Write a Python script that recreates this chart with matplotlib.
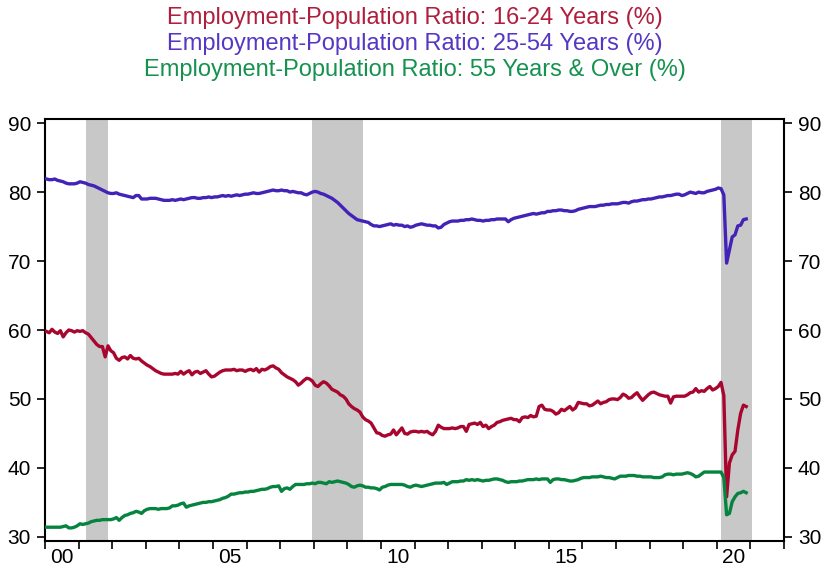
import numpy as np
import matplotlib
matplotlib.use("Agg")
import matplotlib.pyplot as plt

# monthly readings, Jan 2000 .. Nov 2020
age_16_24 = [
    59.8, 59.6, 60.1, 59.7, 59.5, 59.9, 59.0, 59.6, 60.0, 59.9, 59.7, 59.9,
    59.8, 59.9, 59.6, 59.4, 58.9, 58.4, 57.9, 57.6, 57.6, 56.1, 57.7, 57.0,
    56.7, 55.9, 55.6, 56.0, 56.1, 55.8, 56.3, 55.9, 55.8, 55.9, 55.5, 55.2,
    54.9, 54.7, 54.4, 54.1, 53.9, 53.7, 53.6, 53.6, 53.6, 53.6, 53.7, 53.6,
    54.0, 53.6, 53.9, 54.1, 53.5, 53.9, 54.0, 53.7, 53.9, 54.1, 53.6, 53.2,
    53.3, 53.6, 53.9, 54.1, 54.2, 54.2, 54.2, 54.3, 54.1, 54.2, 54.2, 54.0,
    54.2, 54.3, 54.1, 54.4, 53.9, 54.3, 54.2, 54.4, 54.7, 54.8, 54.5, 54.3,
    53.8, 53.5, 53.2, 53.0, 52.8, 52.5, 52.0, 52.3, 52.7, 53.0, 52.9, 52.6,
    52.0, 51.8, 52.2, 52.5, 52.3, 51.9, 51.4, 51.2, 51.0, 50.6, 50.4, 50.0,
    49.3, 48.9, 48.6, 48.4, 48.1, 47.4, 47.0, 46.8, 46.5, 45.8, 45.1, 45.0,
    44.7, 44.6, 44.8, 44.9, 45.5, 44.8, 45.3, 45.8, 45.0, 44.9, 45.2, 45.3,
    45.3, 45.2, 45.3, 45.2, 45.3, 45.0, 44.8, 45.3, 46.2, 45.9, 45.7, 45.7,
    45.7, 45.8, 45.7, 45.8, 46.0, 46.0, 45.3, 46.3, 46.4, 46.5, 46.3, 46.6,
    46.0, 46.2, 45.7, 46.0, 46.2, 46.6, 46.7, 46.9, 47.0, 47.1, 47.2, 47.0,
    47.0, 46.7, 47.3, 47.4, 47.3, 47.6, 47.4, 47.5, 48.9, 49.1, 48.5, 48.4,
    48.4, 48.2, 47.8, 48.0, 48.5, 48.3, 48.6, 48.9, 48.4, 48.7, 49.5, 49.4,
    49.3, 49.3, 49.0, 49.1, 49.4, 49.7, 49.3, 49.5, 49.6, 49.9, 50.0, 50.0,
    49.9, 50.2, 50.7, 50.5, 50.1, 50.2, 50.6, 50.9, 50.3, 49.8, 50.2, 50.6,
    50.9, 51.0, 50.8, 50.6, 50.5, 50.4, 50.4, 49.4, 50.3, 50.4, 50.4, 50.4,
    50.4, 50.6, 50.9, 51.0, 51.5, 51.0, 51.2, 51.1, 51.5, 51.8, 51.3, 51.5,
    51.8, 52.4, 50.5, 35.8, 40.7, 41.9, 42.4, 45.5, 47.9, 49.1, 48.9,
]

age_25_54 = [
    81.9, 81.8, 81.8, 81.9, 81.7, 81.6, 81.5, 81.3, 81.2, 81.2, 81.2, 81.3,
    81.5, 81.4, 81.3, 81.1, 81.0, 80.9, 80.7, 80.5, 80.3, 80.1, 79.9, 79.8,
    79.8, 79.9, 79.7, 79.6, 79.5, 79.4, 79.3, 79.2, 79.5, 79.5, 79.0, 79.0,
    79.0, 79.1, 79.1, 79.1, 79.0, 78.9, 78.8, 78.8, 78.8, 78.9, 78.8, 78.9,
    79.0, 78.9, 79.0, 79.1, 79.2, 79.2, 79.1, 79.1, 79.2, 79.2, 79.3, 79.2,
    79.3, 79.3, 79.4, 79.5, 79.4, 79.5, 79.4, 79.5, 79.6, 79.5, 79.6, 79.7,
    79.7, 79.8, 79.9, 79.8, 79.8, 79.9, 80.0, 80.1, 80.2, 80.3, 80.2, 80.2,
    80.3, 80.2, 80.2, 80.0, 80.1, 80.0, 79.9, 79.9, 79.7, 79.6, 79.8, 80.0,
    80.1, 80.0, 79.8, 79.7, 79.5, 79.3, 79.1, 78.8, 78.5, 78.1, 77.7, 77.3,
    76.9, 76.6, 76.3, 76.0, 75.9, 75.8, 75.7, 75.6, 75.3, 75.1, 75.1, 75.0,
    75.1, 75.2, 75.3, 75.4, 75.2, 75.3, 75.2, 75.2, 75.0, 75.1, 74.9, 75.0,
    75.2, 75.3, 75.4, 75.3, 75.2, 75.2, 75.1, 75.1, 74.8, 74.9, 75.3, 75.5,
    75.7, 75.8, 75.8, 75.8, 75.9, 75.9, 76.0, 76.0, 76.1, 76.0, 75.9, 75.9,
    75.8, 75.9, 75.9, 76.0, 76.0, 76.1, 76.1, 76.1, 76.1, 75.7, 76.0, 76.2,
    76.3, 76.4, 76.5, 76.6, 76.7, 76.8, 76.9, 76.8, 76.9, 77.0, 77.0, 77.2,
    77.2, 77.3, 77.3, 77.4, 77.4, 77.3, 77.3, 77.2, 77.2, 77.3, 77.5, 77.6,
    77.7, 77.8, 77.9, 77.9, 77.9, 78.0, 78.1, 78.1, 78.2, 78.2, 78.3, 78.3,
    78.3, 78.4, 78.5, 78.5, 78.4, 78.6, 78.7, 78.7, 78.8, 78.9, 78.9, 79.0,
    79.0, 79.1, 79.2, 79.3, 79.3, 79.4, 79.5, 79.5, 79.6, 79.7, 79.7, 79.5,
    79.6, 79.8, 80.0, 79.9, 79.8, 80.0, 79.9, 79.9, 80.1, 80.2, 80.3, 80.4,
    80.6, 80.5, 79.6, 69.7, 71.6, 73.5, 73.8, 75.1, 75.2, 76.0, 76.1,
]

age_55_over = [
    31.4, 31.4, 31.4, 31.4, 31.4, 31.4, 31.5, 31.6, 31.3, 31.3, 31.4, 31.6,
    31.9, 31.8, 31.9, 32.0, 32.2, 32.3, 32.4, 32.4, 32.5, 32.5, 32.5, 32.5,
    32.6, 32.8, 32.4, 32.8, 33.1, 33.2, 33.4, 33.5, 33.7, 33.6, 33.4, 33.8,
    34.0, 34.1, 34.1, 34.1, 34.0, 34.1, 34.1, 34.1, 34.2, 34.5, 34.5, 34.6,
    34.8, 34.9, 34.3, 34.5, 34.6, 34.7, 34.8, 34.9, 35.0, 35.0, 35.1, 35.1,
    35.2, 35.3, 35.4, 35.6, 35.7, 35.9, 36.2, 36.2, 36.3, 36.4, 36.4, 36.5,
    36.5, 36.6, 36.6, 36.7, 36.8, 36.9, 36.9, 37.0, 37.2, 37.3, 37.3, 37.4,
    36.6, 37.0, 37.1, 36.9, 37.3, 37.6, 37.6, 37.6, 37.6, 37.7, 37.7, 37.8,
    37.7, 37.9, 37.9, 37.8, 37.7, 38.0, 37.9, 38.0, 38.1, 38.0, 37.9, 37.8,
    37.6, 37.3, 37.2, 37.4, 37.5, 37.4, 37.2, 37.2, 37.1, 37.1, 37.0, 36.8,
    37.2, 37.3, 37.5, 37.6, 37.6, 37.6, 37.6, 37.6, 37.5, 37.3, 37.2, 37.4,
    37.5, 37.4, 37.3, 37.4, 37.5, 37.6, 37.7, 37.8, 37.8, 37.8, 37.9, 37.6,
    37.8, 38.0, 38.0, 38.0, 38.1, 38.1, 38.3, 38.2, 38.3, 38.2, 38.3, 38.2,
    38.1, 38.2, 38.2, 38.3, 38.4, 38.4, 38.3, 38.2, 38.0, 37.9, 38.0, 38.0,
    38.0, 38.1, 38.1, 38.2, 38.3, 38.3, 38.3, 38.4, 38.3, 38.4, 38.4, 38.4,
    37.9, 38.3, 38.4, 38.4, 38.3, 38.3, 38.2, 38.1, 38.1, 38.2, 38.3, 38.5,
    38.6, 38.6, 38.6, 38.7, 38.7, 38.7, 38.8, 38.7, 38.6, 38.6, 38.5, 38.4,
    38.6, 38.8, 38.8, 38.8, 38.9, 38.9, 38.9, 38.8, 38.8, 38.7, 38.7, 38.7,
    38.7, 38.6, 38.6, 38.6, 38.7, 39.0, 39.1, 39.1, 39.0, 39.1, 39.1, 39.1,
    39.2, 39.3, 39.2, 39.0, 38.7, 38.8, 39.1, 39.4, 39.4, 39.4, 39.4, 39.4,
    39.4, 39.4, 38.6, 33.2, 33.4, 35.1, 35.8, 36.3, 36.4, 36.6, 36.4,
]

# recessions as (start year, start month, end year, end month)
recessions = [(2001, 3, 2001, 11), (2007, 12, 2009, 6), (2020, 2, 2021, 1)]

titles = ["Employment-Population Ratio: 16-24 Years (%)",
          "Employment-Population Ratio: 25-54 Years (%)",
          "Employment-Population Ratio: 55 Years & Over (%)"]
line_colors = ["#A8062E", "#4322B8", "#06843F"]
title_colors = ["#B01E3E", "#5537C4", "#15924F"]

year_labels = ["00", "05", "10", "15", "20"]
label_years = [2000, 2005, 2010, 2015, 2020]

plt.rcParams['font.family'] = ['Liberation Sans', 'DejaVu Sans']

n = len(age_25_54)
x = 2000 + (np.arange(n) + 0.5) / 12.0


def mid_month(y, m):
    return y + (m - 0.5) / 12.0


fig = plt.figure(figsize=(8.24, 5.76), dpi=100)
ax = fig.add_axes([45 / 824, 1 - 541 / 576, (784 - 45) / 824, (541 - 119) / 576])

for y0, m0, y1, m1 in recessions:
    ax.axvspan(mid_month(y0, m0), mid_month(y1, m1), color="#C8C8C8", lw=0, zorder=0)

for series, c in zip([age_16_24, age_25_54, age_55_over], line_colors):
    ax.plot(x, series, color=c, lw=2.4, solid_joinstyle="round", zorder=3)

ax.set_xlim(2000, 2022)
ax.set_ylim(29.4, 90.6)

ax.set_xticks(np.arange(2000, 2023))
ax.set_xticklabels([])
ax.set_xticks([yr + 0.5 for yr in label_years], minor=True)
ax.set_xticklabels(year_labels, minor=True)
ax.tick_params(axis="x", which="major", direction="out", length=6, width=1.2, color="black")
ax.tick_params(axis="x", which="minor", length=0, labelsize=15, pad=5)

ax.set_yticks(np.arange(30, 91, 10))
ax.tick_params(axis="y", which="both", direction="out", length=6, width=1.2,
               labelsize=15, left=True, right=True, labelleft=True, labelright=True, pad=4)

for s in ax.spines.values():
    s.set_linewidth(1.5)
    s.set_color("black")

ys = [1 - 18 / 576, 1 - 44 / 576, 1 - 70 / 576]
for t, c, yy in zip(titles, title_colors, ys):
    fig.text(0.503, yy, t, color=c, fontsize=17, ha="center", va="center")

fig.savefig("out.png", dpi=100)
